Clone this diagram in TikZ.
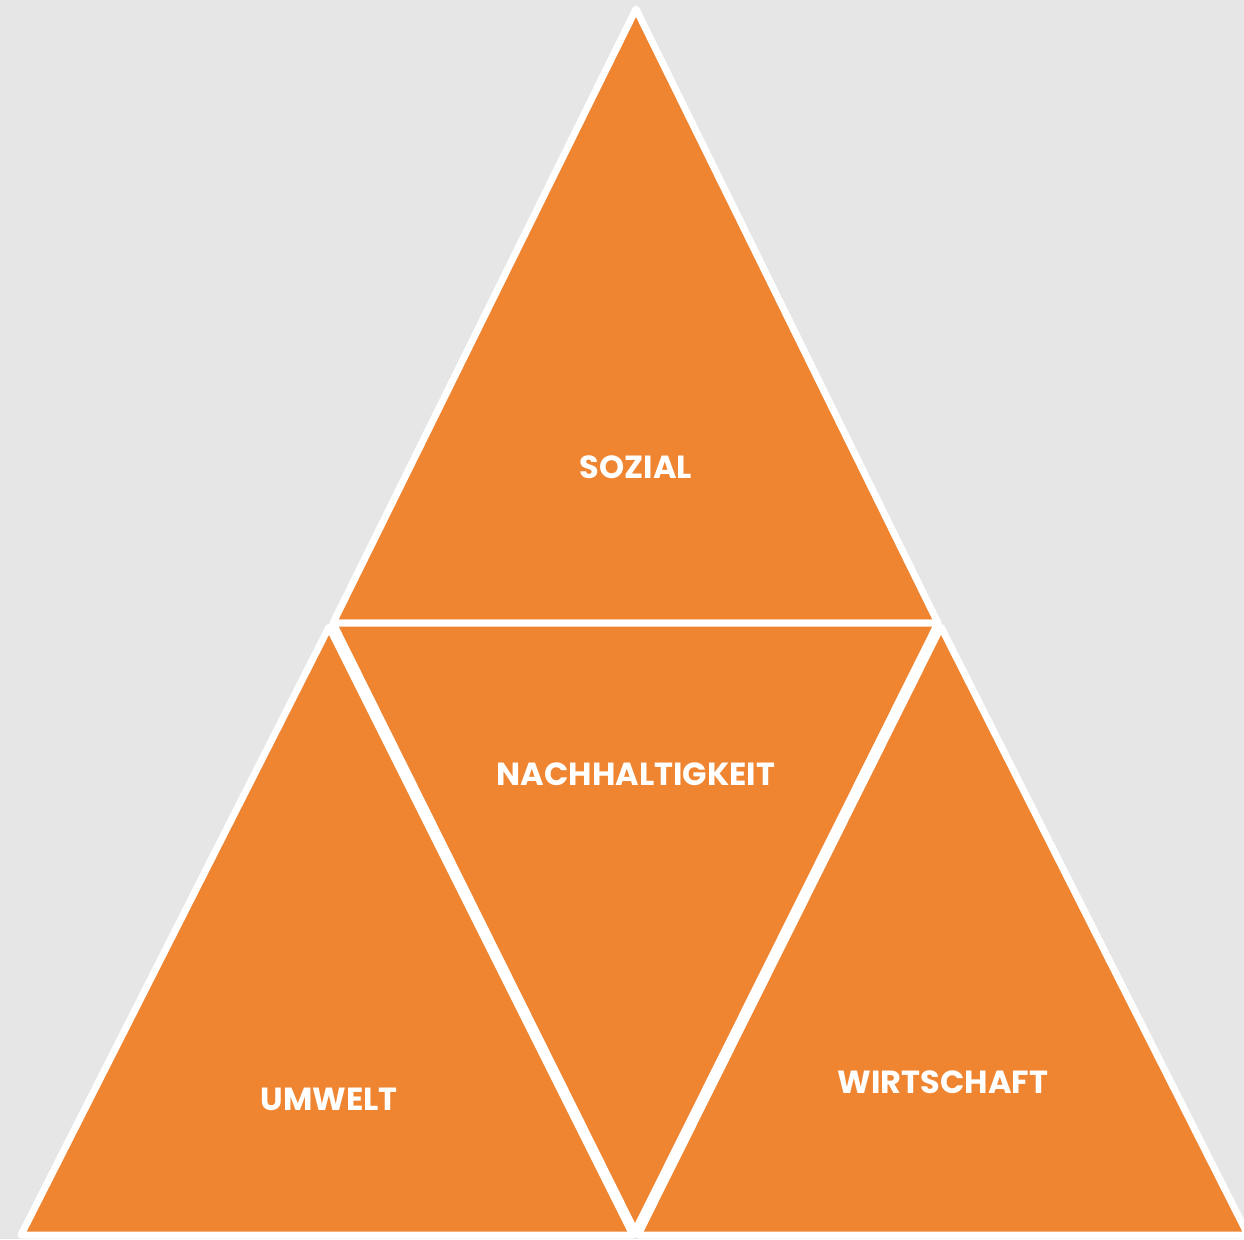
\documentclass[tikz,border=0pt]{standalone}
\usepackage{fontspec}
\setmainfont{Poppins}[UprightFont=* Bold]
\definecolor{bg}{HTML}{E6E6E6}
\definecolor{orng}{HTML}{EF8431}
\begin{document}
\begin{tikzpicture}[x=1pt,y=-1pt,
  tri/.style={fill=orng,draw=white,line width=7pt,line join=round},
  lbl/.style={text=white,font=\fontsize{32}{36}\selectfont,inner sep=0pt,anchor=center}]
\fill[bg] (0,0) rectangle (1244,1239);
\useasboundingbox (0,0) rectangle (1244,1239);
\begin{scope}
\clip (0,0) rectangle (1244,1239);
\coordinate (A) at (636,9);
\coordinate (L) at (333,623);
\coordinate (R) at (938,623);
\coordinate (B) at (635,1231);
\coordinate (BL) at (21,1235);
\coordinate (BR) at (1248,1235);
\coordinate (LA) at (329,627);
\coordinate (RA) at (941,627);
\coordinate (LB) at (633,1235);
\coordinate (RB) at (638,1235);
\draw[tri] (A) -- (R) -- (L) -- cycle;
\draw[tri] (LA) -- (LB) -- (BL) -- cycle;
\draw[tri] (RA) -- (BR) -- (RB) -- cycle;
\draw[tri] (L) -- (R) -- (B) -- cycle;
\end{scope}
\node[lbl] (soz) at (636,467) {SOZIAL};
\node[lbl] (nach) at (636,774) {NACHHALTIGKEIT};
\node[lbl] (umw) at (329,1099) {UMWELT};
\node[lbl] (wirt) at (943,1082) {WIRTSCHAFT};
\end{tikzpicture}
\end{document}
